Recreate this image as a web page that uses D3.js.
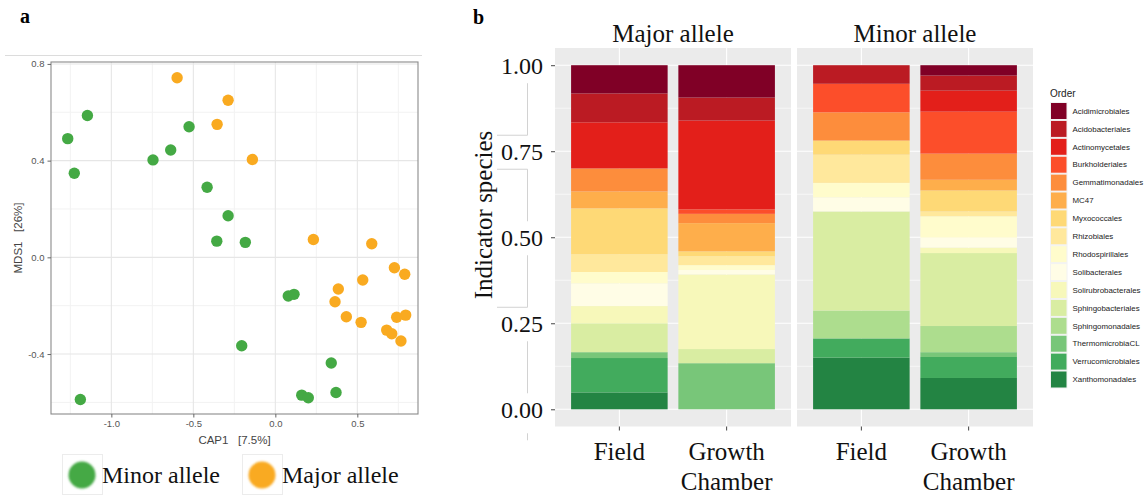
<!DOCTYPE html>
<html>
<head>
<meta charset="utf-8">
<script src="https://cdn.jsdelivr.net/npm/d3@7"></script>
<style>
  body { margin: 0; background: #fff; }
  svg { display: block; }
</style>
</head>
<body>
<svg id="fig" width="1144" height="496"></svg>
<script>
// ---------- panel a: ordination scores per sample ----------
const minorCap1 = [-1.146, -1.266, -1.226, -0.746, -0.638, -0.526, -0.416, -0.288, -0.357, -0.183,
                   0.079, 0.114, -0.205, 0.341, 0.370, 0.161, 0.201, -1.189];
const minorMds1 = [0.587, 0.491, 0.348, 0.403, 0.444, 0.540, 0.290, 0.172, 0.067, 0.062,
                   -0.160, -0.153, -0.366, -0.437, -0.559, -0.570, -0.581, -0.588];
const majorCap1 = [-0.599, -0.288, -0.355, -0.140, 0.232, 0.588, 0.726, 0.789, 0.533, 0.384,
                   0.364, 0.433, 0.523, 0.740, 0.795, 0.679, 0.710, 0.766];
const majorMds1 = [0.743, 0.650, 0.550, 0.405, 0.074, 0.056, -0.043, -0.070, -0.094, -0.131,
                   -0.184, -0.246, -0.269, -0.248, -0.239, -0.301, -0.316, -0.346];
const capTicks = [-1.0, -0.5, 0.0, 0.5];
const mdsTicks = [0.8, 0.4, 0.0, -0.4];
const groupNames = ["Minor allele", "Major allele"];

// ---------- panel b: share of indicator species by order ----------
const orders = ["Acidimicrobiales", "Acidobacteriales", "Actinomycetales", "Burkholderiales",
  "Gemmatimonadales", "MC47", "Myxococcales", "Rhizobiales", "Rhodospirillales", "Solibacterales",
  "Solirubrobacterales", "Sphingobacteriales", "Sphingomonadales", "ThermomicrobiaCL",
  "Verrucomicrobiales", "Xanthomonadales"];
const alleles = ["Major allele", "Minor allele"];
const environments = ["Field", "Growth Chamber"];
const majorField   = [0.082, 0.084, 0.134, 0.000, 0.067, 0.049, 0.133, 0.052, 0.033, 0.066, 0.050, 0.084, 0.000, 0.017, 0.100, 0.049];
const majorChamber = [0.094, 0.067, 0.258, 0.013, 0.027, 0.082, 0.014, 0.026, 0.014, 0.013, 0.217, 0.041, 0.000, 0.134, 0.000, 0.000];
const minorField   = [0.000, 0.054, 0.000, 0.083, 0.082, 0.000, 0.041, 0.082, 0.042, 0.041, 0.000, 0.288, 0.081, 0.000, 0.056, 0.150];
const minorChamber = [0.030, 0.044, 0.061, 0.122, 0.076, 0.031, 0.061, 0.014, 0.062, 0.029, 0.016, 0.212, 0.076, 0.014, 0.061, 0.091];
const shareTicks = [0, 0.25, 0.5, 0.75, 1];

// palette for the orders (YlOrRd into YlGn)
const orderColors = ["#800026", "#bb1b23", "#e31f1a", "#fc4e2a", "#fd8d3c", "#feae4b", "#fed976",
  "#ffe89c", "#fffccc", "#fffde6", "#f7f8ba", "#d9eda2", "#addd8e", "#78c679", "#42ab5d", "#238443"];
const groupColors = ["#44a944", "#f9aa20"];

const svg = d3.select("#fig");
const serif = "'Liberation Serif', 'Times New Roman', serif";
const sans = "'Liberation Sans', Arial, Helvetica, sans-serif";

// ===================== panel a =====================
const pa = { left: 51, right: 418, top: 62, bottom: 414 };
const xA = d3.scaleLinear().domain([-1.368, 0.87]).range([pa.left, pa.right]);
const yA = d3.scaleLinear().domain([-0.648, 0.808]).range([pa.bottom, pa.top]);

svg.append("text").attr("x", 20).attr("y", 23).attr("font-family", serif)
  .attr("font-weight", "bold").attr("font-size", 20).text("a");
svg.append("line").attr("x1", 5).attr("x2", 422).attr("y1", 55.5).attr("y2", 55.5)
  .attr("stroke", "#dcdcdc").attr("stroke-width", 1);

const gA = svg.append("g");
gA.append("rect").attr("x", pa.left).attr("y", pa.top)
  .attr("width", pa.right - pa.left).attr("height", pa.bottom - pa.top).attr("fill", "#fff");

// minor grid halfway between the labelled breaks
const halfStep = (arr) => {
  const s = Math.abs(arr[1] - arr[0]);
  const lo = d3.min(arr), hi = d3.max(arr);
  return d3.range(lo - s / 2, hi + s, s);
};
const xMinor = halfStep(capTicks).filter(v => v > xA.domain()[0] && v < xA.domain()[1]);
const yMinor = halfStep(mdsTicks).filter(v => v > yA.domain()[0] && v < yA.domain()[1]);

gA.selectAll("line.xminor").data(xMinor).join("line")
  .attr("x1", d => xA(d)).attr("x2", d => xA(d)).attr("y1", pa.top).attr("y2", pa.bottom)
  .attr("stroke", "#f2f2f2").attr("stroke-width", 1);
gA.selectAll("line.yminor").data(yMinor).join("line")
  .attr("y1", d => yA(d)).attr("y2", d => yA(d)).attr("x1", pa.left).attr("x2", pa.right)
  .attr("stroke", "#f2f2f2").attr("stroke-width", 1);
gA.selectAll("line.xmajor").data(capTicks).join("line")
  .attr("x1", d => xA(d)).attr("x2", d => xA(d)).attr("y1", pa.top).attr("y2", pa.bottom)
  .attr("stroke", "#e6e6e6").attr("stroke-width", 1.1);
gA.selectAll("line.ymajor").data(mdsTicks).join("line")
  .attr("y1", d => yA(d)).attr("y2", d => yA(d)).attr("x1", pa.left).attr("x2", pa.right)
  .attr("stroke", "#e6e6e6").attr("stroke-width", 1.1);

const pts = [];
minorCap1.forEach((v, i) => pts.push({ g: 0, x: v, y: minorMds1[i] }));
majorCap1.forEach((v, i) => pts.push({ g: 1, x: v, y: majorMds1[i] }));
gA.selectAll("circle.pt").data(pts).join("circle")
  .attr("cx", d => xA(d.x)).attr("cy", d => yA(d.y)).attr("r", 5.7)
  .attr("fill", d => groupColors[d.g]);

gA.append("rect").attr("x", pa.left).attr("y", pa.top)
  .attr("width", pa.right - pa.left).attr("height", pa.bottom - pa.top)
  .attr("fill", "none").attr("stroke", "#8a8a8a").attr("stroke-width", 1.1);

const fmt1 = d => d.toFixed(1);
const axA_x = gA.append("g").attr("transform", `translate(0,${pa.bottom})`)
  .call(d3.axisBottom(xA).tickValues(capTicks).tickSize(3.5).tickPadding(3).tickFormat(fmt1));
const axA_y = gA.append("g").attr("transform", `translate(${pa.left},0)`)
  .call(d3.axisLeft(yA).tickValues(mdsTicks).tickSize(3.5).tickPadding(3).tickFormat(fmt1));
[axA_x, axA_y].forEach(ax => {
  ax.select(".domain").remove();
  ax.selectAll("line").attr("stroke", "#666");
  ax.selectAll("text").attr("font-family", sans).attr("font-size", 9.5).attr("fill", "#555");
});

svg.append("text").attr("x", (pa.left + pa.right) / 2).attr("y", 444)
  .attr("text-anchor", "middle").attr("font-family", sans).attr("font-size", 11.5)
  .attr("fill", "#444").attr("xml:space", "preserve").text("CAP1   [7.5%]");
svg.append("text").attr("transform", `translate(22,${(pa.top + pa.bottom) / 2}) rotate(-90)`)
  .attr("text-anchor", "middle").attr("font-family", sans).attr("font-size", 11.5)
  .attr("fill", "#444").attr("xml:space", "preserve").text("MDS1   [26%]");

// legend under panel a
const defs = svg.append("defs");
defs.append("filter").attr("id", "soft").attr("x", "-30%").attr("y", "-30%")
  .attr("width", "160%").attr("height", "160%")
  .append("feGaussianBlur").attr("stdDeviation", 1.1);
const legA = svg.append("g");
const legX = [62, 242];
groupNames.forEach((name, i) => {
  const gx = legX[i];
  legA.append("rect").attr("x", gx + 0.5).attr("y", 454.5).attr("width", 40).attr("height", 40)
    .attr("fill", "#fff").attr("stroke", "#ececec");
  legA.append("circle").attr("cx", gx + 20).attr("cy", 475).attr("r", 13.5)
    .attr("fill", groupColors[i]).attr("filter", "url(#soft)");
  legA.append("text").attr("x", gx + 40).attr("y", 483).attr("font-family", serif)
    .attr("font-size", 24).attr("fill", "#111").text(name);
});

// ===================== panel b =====================
const pb = { top: 48, bottom: 426.5, lefts: [555, 797], width: 236 };
const yB = d3.scaleLinear().domain([-0.05, 1.05]).range([pb.bottom, pb.top]);
const xB = d3.scaleBand().domain(environments).range([0, pb.width])
  .paddingInner(0.1).paddingOuter(0.15);

svg.append("text").attr("x", 473).attr("y", 24).attr("font-family", serif)
  .attr("font-weight", "bold").attr("font-size", 20).text("b");

const barValues = { "Major allele": [majorField, majorChamber], "Minor allele": [minorField, minorChamber] };
const stackKeys = orders.slice().reverse();   // first order sits on top of the stack
const colorOf = d3.scaleOrdinal().domain(orders).range(orderColors);

alleles.forEach((allele, k) => {
  const g = svg.append("g").attr("transform", `translate(${pb.lefts[k]},0)`);
  g.append("rect").attr("x", 0).attr("y", pb.top).attr("width", pb.width)
    .attr("height", pb.bottom - pb.top).attr("fill", "#ebebeb");
  const minorY = shareTicks.slice(1).map((t, i) => (t + shareTicks[i]) / 2);
  g.selectAll("line.ym").data(minorY).join("line")
    .attr("x1", 0).attr("x2", pb.width).attr("y1", d => yB(d)).attr("y2", d => yB(d))
    .attr("stroke", "#fff").attr("stroke-width", 0.6);
  g.selectAll("line.yM").data(shareTicks).join("line")
    .attr("x1", 0).attr("x2", pb.width).attr("y1", d => yB(d)).attr("y2", d => yB(d))
    .attr("stroke", "#fff").attr("stroke-width", 1.1);
  g.selectAll("line.xM").data(environments).join("line")
    .attr("x1", d => xB(d) + xB.bandwidth() / 2).attr("x2", d => xB(d) + xB.bandwidth() / 2)
    .attr("y1", pb.top).attr("y2", pb.bottom).attr("stroke", "#fff").attr("stroke-width", 1.1);

  const rows = environments.map((env, j) => {
    const row = { env };
    orders.forEach((o, m) => { row[o] = barValues[allele][j][m]; });
    return row;
  });
  const series = d3.stack().keys(stackKeys).offset(d3.stackOffsetExpand)(rows);
  g.selectAll("g.layer").data(series).join("g").attr("fill", d => colorOf(d.key))
    .selectAll("rect").data(d => d.filter(s => s[1] - s[0] > 0)).join("rect")
    .attr("x", d => xB(d.data.env)).attr("width", xB.bandwidth())
    .attr("y", d => yB(d[1])).attr("height", d => yB(d[0]) - yB(d[1]));

  // facet strip label
  svg.append("text").attr("x", pb.lefts[k] + pb.width / 2).attr("y", 42)
    .attr("text-anchor", "middle").attr("font-family", serif).attr("font-size", 25)
    .attr("fill", "#111").text(allele);

  // bottom axis with two-line labels
  const ax = g.append("g").attr("transform", `translate(0,${pb.bottom})`)
    .call(d3.axisBottom(xB).tickSize(4).tickPadding(0));
  ax.select(".domain").remove();
  ax.selectAll("line").attr("stroke", "#444");
  ax.selectAll(".tick text").each(function (d) {
    const t = d3.select(this).text(null).attr("y", 33.5).attr("dy", null)
      .attr("font-family", serif).attr("font-size", 25).attr("fill", "#111");
    d.split(" ").forEach((w, i) => {
      t.append("tspan").attr("x", 0).attr("dy", i ? 30 : 0).text(w);
    });
  });
});

// left axis of panel b
const axB = svg.append("g").attr("transform", `translate(${pb.lefts[0]},0)`)
  .call(d3.axisLeft(yB).tickValues(shareTicks).tickSize(4).tickPadding(8)
    .tickFormat(d => d.toFixed(2)));
axB.select(".domain").remove();
axB.selectAll("line").attr("stroke", "#444");
axB.selectAll("text").attr("font-family", serif).attr("font-size", 24).attr("fill", "#111")
  .attr("dy", "0.36em");

// faint guide lines between the tick labels
const guide = svg.append("g").attr("stroke", "#d2d2d2").attr("stroke-width", 1);
const desc = shareTicks.slice().sort((p, q) => q - p);
desc.slice(0, -1).forEach((t, i) => {
  const y1 = yB(t) + 18, y2 = yB(desc[i + 1]) - 16;
  guide.append("line").attr("x1", 527.5).attr("x2", 527.5).attr("y1", y1).attr("y2", y2);
  const yh = i % 2 ? y1 : y2;
  if (i < 3) guide.append("line").attr("x1", 497).attr("x2", 527.5).attr("y1", yh).attr("y2", yh);
});
guide.append("line").attr("x1", 527.5).attr("x2", 527.5)
  .attr("y1", yB(0) + 24).attr("y2", yB(0) + 31);

svg.append("text").attr("transform", "translate(492,215) rotate(-90)")
  .attr("text-anchor", "middle").attr("font-family", serif).attr("font-size", 25)
  .attr("fill", "#111").text("Indicator species");

// order legend
const legB = svg.append("g").attr("transform", "translate(1050,0)");
legB.append("text").attr("x", 0).attr("y", 96.5).attr("font-family", sans)
  .attr("font-size", 10).attr("fill", "#222").text("Order");
const keyRow = legB.selectAll("g.key").data(orders).join("g")
  .attr("transform", (d, i) => `translate(0,${102 + i * 17.9})`);
keyRow.append("rect").attr("x", 0.5).attr("y", 0.5).attr("width", 16.5).attr("height", 17)
  .attr("fill", d => colorOf(d)).attr("stroke", "#f2f2f2").attr("stroke-width", 1);
keyRow.append("text").attr("x", 22.5).attr("y", 9).attr("dy", "0.35em")
  .attr("font-family", sans).attr("font-size", 7.9).attr("fill", "#222").text(d => d);
</script>
</body>
</html>
